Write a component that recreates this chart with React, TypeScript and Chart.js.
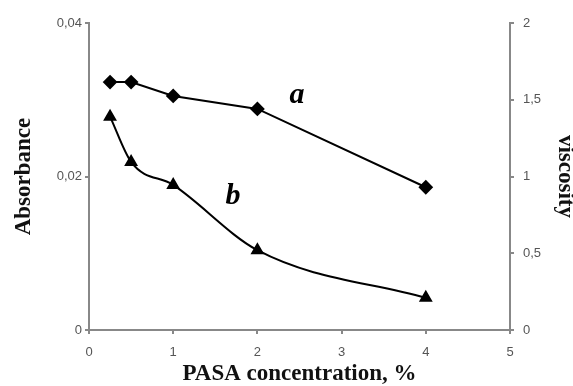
import React, { useEffect, useRef } from "react";
import { Chart, registerables } from "chart.js";

Chart.register(...registerables);

const concentrations = [0.25, 0.5, 1, 2, 4];
const absorbanceA = [0.0323, 0.0323, 0.0305, 0.0288, 0.0186];
const viscosityB = [1.39, 1.095, 0.945, 0.52, 0.21];
const curveLabels = ["a", "b"];
const curveLabelX = [2.47, 1.71];
const curveLabelY = [0.0306, 0.01746];

const xTicks = [0, 1, 2, 3, 4, 5];

const tickFont = { family: "'Liberation Sans', Arial, sans-serif", size: 13 };
const titleFont = { family: "'Liberation Serif', 'Times New Roman', serif", size: 23, weight: "bold" as const, lineHeight: 1 };

const labelPlugin = {
  id: "curveLabels",
  afterDatasetsDraw(chart: any) {
    const { ctx, scales } = chart;
    ctx.save();
    ctx.font = "italic bold 30px 'Liberation Serif', 'Times New Roman', serif";
    ctx.fillStyle = "#000";
    ctx.textAlign = "center";
    ctx.textBaseline = "middle";
    curveLabels.forEach((t, i) => {
      ctx.fillText(t, scales.x.getPixelForValue(curveLabelX[i]), scales.y.getPixelForValue(curveLabelY[i]));
    });
    ctx.restore();
  },
};

export default function App() {
  const ref = useRef<HTMLCanvasElement>(null);
  useEffect(() => {
    document.body.style.margin = "0";
    const chart = new Chart(ref.current!, {
      type: "line",
      data: {
        datasets: [
          {
            label: "a",
            data: concentrations.map((x, i) => ({ x, y: absorbanceA[i] })),
            yAxisID: "y",
            borderColor: "#000",
            backgroundColor: "#000",
            borderWidth: 2,
            pointStyle: "rectRot",
            pointRadius: 6,
            pointHoverRadius: 6,
            tension: 0,
          },
          {
            label: "b",
            data: concentrations.map((x, i) => ({ x, y: viscosityB[i] })),
            yAxisID: "y1",
            borderColor: "#000",
            backgroundColor: "#000",
            borderWidth: 2,
            pointStyle: "triangle",
            pointRadius: 6,
            pointHoverRadius: 6,
            cubicInterpolationMode: "monotone",
          },
        ],
      },
      options: {
        responsive: false,
        animation: false,
        layout: { padding: { top: 23, left: 0, right: 0, bottom: 0 } },
        plugins: { legend: { display: false }, tooltip: { enabled: false } },
        scales: {
          x: {
            type: "linear",
            min: 0,
            max: 5,
            afterBuildTicks: (s: any) => { s.ticks = xTicks.map((v) => ({ value: v })); },
            afterFit: (s: any) => { s.height = 56; },
            ticks: { font: tickFont, color: "#555", padding: 11 },
            grid: { drawOnChartArea: false, drawTicks: true, tickLength: 4, color: "#888", lineWidth: 2 },
            border: { color: "#888", width: 2 },
            title: { display: true, text: "PASA concentration, %", font: titleFont, color: "#111", padding: { top: 0, bottom: 0 } },
          },
          y: {
            position: "left",
            min: 0,
            max: 0.04,
            ticks: { stepSize: 0.02, font: tickFont, color: "#555", padding: 3, callback: (v: any) => (Number(v) === 0 ? "0" : Number(v).toFixed(2).replace(".", ",")) },
            afterFit: (s: any) => { s.width = 89; },
            grid: { drawOnChartArea: false, drawTicks: true, tickLength: 4, color: "#888", lineWidth: 2 },
            border: { color: "#888", width: 2 },
            title: { display: true, text: "Absorbance", font: titleFont, color: "#111", padding: { top: 13, bottom: 0 } },
          },
          y1: {
            position: "right",
            min: 0,
            max: 2,
            ticks: { stepSize: 0.5, font: tickFont, color: "#555", padding: 9, callback: (v: any) => String(v).replace(".", ",") },
            afterFit: (s: any) => { s.width = 63; },
            grid: { drawOnChartArea: false, drawTicks: true, tickLength: 4, color: "#888", lineWidth: 2 },
            border: { color: "#888", width: 2 },
            title: { display: true, text: "viscosity", font: titleFont, color: "#111", padding: { top: -3, bottom: 0 } },
          },
        },
      } as any,
      plugins: [labelPlugin],
    });
    return () => chart.destroy();
  }, []);
  return <canvas ref={ref} width={573} height={386} style={{ display: "block" }} />;
}
